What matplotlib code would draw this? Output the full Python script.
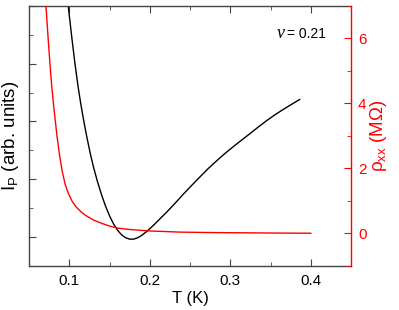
import matplotlib
matplotlib.use("Agg")
import matplotlib.pyplot as plt
from matplotlib.ticker import MultipleLocator, NullFormatter

plt.rcParams['font.family'] = ['Liberation Sans', 'DejaVu Sans']

# Black curve: photocurrent I_P (arb. units) vs T (K)
T_ip = [0.0988, 0.1030, 0.1071, 0.1110, 0.1141, 0.1175, 0.1207, 0.1240, 0.1266,
        0.1300, 0.1347, 0.1400, 0.1450, 0.1500, 0.1550, 0.1600, 0.1650, 0.1700,
        0.1750, 0.1800, 0.1850, 0.1900, 0.1950, 0.2000, 0.2050, 0.2100, 0.2150,
        0.2208, 0.2300, 0.2414, 0.2520, 0.2621, 0.2720, 0.2829, 0.2930, 0.3035,
        0.3140, 0.3242, 0.3350, 0.3449, 0.3550, 0.3655, 0.3760, 0.3862]
I_p = [7.98, 6.95, 6.00, 5.20, 4.65, 4.10, 3.62, 3.17, 2.83,
       2.43, 1.95, 1.47, 1.07, 0.73, 0.45, 0.23, 0.07, -0.03,
       -0.08, -0.08, -0.03, 0.05, 0.16, 0.28, 0.41, 0.55, 0.69,
       0.85, 1.12, 1.47, 1.78, 2.07, 2.35, 2.63, 2.88, 3.12,
       3.35, 3.57, 3.81, 4.02, 4.22, 4.41, 4.59, 4.76]

# Red curve: rho_xx (MOhm) vs T (K)
T_rho = [0.0711, 0.0735, 0.0761, 0.0780, 0.0801, 0.0825, 0.0850, 0.0880, 0.0913,
         0.0950, 0.0990, 0.1037, 0.1090, 0.1150, 0.1203, 0.1298, 0.1409, 0.1500,
         0.1596, 0.1750, 0.2001, 0.2374, 0.2800, 0.3240, 0.3600, 0.4000]
rho = [7.0, 6.1, 5.2, 4.6, 4.05, 3.5, 2.95, 2.4, 1.90,
       1.50, 1.22, 0.98, 0.80, 0.65, 0.55, 0.41, 0.30, 0.22,
       0.16, 0.115, 0.07, 0.035, 0.02, 0.012, 0.005, 0.0]

x_ticks = [0.1, 0.2, 0.3, 0.4]
rho_ticks = [0, 2, 4, 6]

fig = plt.figure(figsize=(3.99, 3.10), dpi=100)
ax = fig.add_axes([29/399, 1-265.7/310, (351-29)/399, (265.7-6)/310])
ax2 = ax.twinx()

ax.plot(T_ip, I_p, color='black', lw=1.0)
ax2.plot(T_rho, rho, color='red', lw=1.0)

ax.set_xlim(0.05, 0.45)
ax.set_ylim(-1, 8)
ax2.set_ylim(-1, 7)

ax.set_xticks(x_ticks)
ax.set_xticklabels([str(v) for v in x_ticks])
ax.xaxis.set_minor_locator(MultipleLocator(0.05))
ax.yaxis.set_major_locator(MultipleLocator(2))
ax.yaxis.set_minor_locator(MultipleLocator(1))
ax.yaxis.set_major_formatter(NullFormatter())

ax2.set_yticks(rho_ticks)
ax2.yaxis.set_minor_locator(MultipleLocator(1))

grey = '#444444'
for s in ['left', 'bottom', 'top']:
    ax.spines[s].set_color(grey)
    ax.spines[s].set_linewidth(1.0)
ax2.spines['right'].set_color('red')
ax2.spines['right'].set_linewidth(1.0)
for s in ['left', 'bottom', 'top']:
    ax2.spines[s].set_visible(False)
ax.spines['right'].set_visible(False)

ax.tick_params(axis='x', which='both', direction='in', top=True, bottom=True,
               color=grey, labelsize=11, pad=6)
ax.tick_params(axis='x', which='major', length=5)
ax.tick_params(axis='x', which='minor', length=3)
ax.tick_params(axis='y', which='both', direction='in', left=True, right=False, color=grey)
ax.tick_params(axis='y', which='major', length=5)
ax.tick_params(axis='y', which='minor', length=3)

ax2.tick_params(axis='y', which='both', direction='in', colors='red', labelsize=11, pad=5)
ax2.tick_params(axis='y', which='major', length=5)
ax2.tick_params(axis='y', which='minor', length=3)

ax.set_xlabel('T (K)', fontsize=12, labelpad=2)
ax.set_ylabel(r'I$_\mathregular{P}$ (arb. units)', fontsize=13.5, labelpad=2)
ax2.set_ylabel(r'ρ$_\mathregular{xx}$ (MΩ)', fontsize=13.5, color='red', labelpad=1)

ax.text(0.770, 0.877, 'ν', transform=ax.transAxes, fontsize=13,
        family='Liberation Serif', style='italic', ha='left', va='baseline')
ax.text(0.801, 0.877, '= 0.21', transform=ax.transAxes, fontsize=10,
        ha='left', va='baseline')

fig.savefig('out.png', dpi=100)
